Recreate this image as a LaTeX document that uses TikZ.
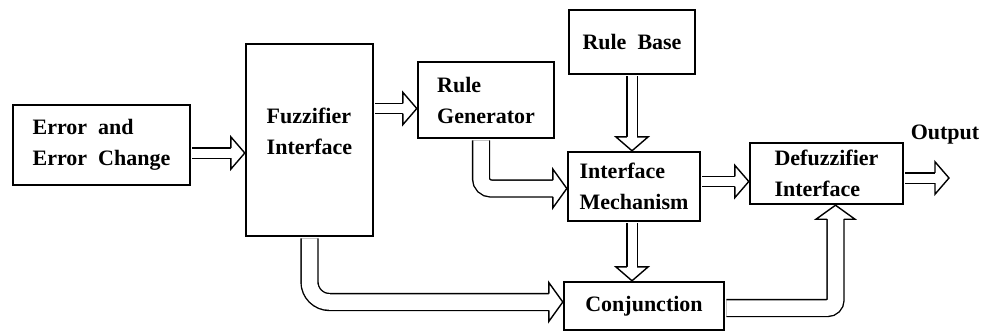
\documentclass[tikz,border=0pt]{standalone}
\usepackage{fontspec}
\setmainfont{Liberation Serif}

% punta aperta per le frecce larghe (punta in (0,0), verso +x)
\tikzset{
  testa/.pic={
    \fill[white] (-14pt,{#1+11pt}) -- (0pt,0pt) -- (-14pt,{-#1-11pt}) -- cycle;
    \draw[line width=1.4pt] (-14pt,#1) -- (-14pt,{#1+11pt}) -- (0pt,0pt)
      -- (-14pt,{-#1-11pt}) -- (-14pt,-#1);
  }
}

\begin{document}
\begin{tikzpicture}[x=1pt, y=-1pt, font=\fontsize{22}{31}\selectfont\bfseries,
    blocco/.style={draw, line width=2.4pt, align=left, inner sep=0pt},
    freccia/.style={double, double distance=9pt, line width=1.4pt,
      shorten >=13pt, shorten <=1.2pt},
    larga/.style={freccia, double distance=15.5pt}]

    \useasboundingbox (0,0) rectangle (988,333);

    % 1. Blocchi
    \node[blocco, minimum width=177pt, minimum height=80pt] (err) at (101.5,145) {Error\ \ and\\Error\ \ Change};
    \node[blocco, minimum width=127pt, minimum height=192pt,
      label={[name=fuzztxt, align=left, yshift=9pt]center:{Fuzzifier\\Interface}}] (fuzz) at (309.5,140) {};
    \node[blocco, minimum width=136pt, minimum height=76pt] (rg) at (486,100) {Rule\\Generator};
    \node[blocco, minimum width=126pt, minimum height=64pt] (rb) at (632,42) {Rule\ \ Base};
    \node[blocco, minimum width=132pt, minimum height=69pt] (im) at (634,186.5) {Interface\\Mechanism};
    \node[blocco, minimum width=153pt, minimum height=61pt] (dz) at (826.5,173.5) {Defuzzifier\\Interface};
    \node[blocco, minimum width=160pt, minimum height=48pt] (conj) at (644,306) {Conjunction};

    % 2. Uscita
    \node (uscita) at (945,135) {Output};
    \coordinate (fine) at (949,178);

    % 3. Frecce diritte
    \draw[freccia] ([yshift=-8pt]err.east) -- ([yshift=-8pt]err.east -| fuzz.west);
    \pic at ([yshift=-8pt]err.east -| fuzz.west) {testa=5.2pt};

    \draw[freccia] ([yshift=-8.5pt]rg.west -| fuzz.east) -- ([yshift=-8.5pt]rg.west);
    \pic at ([yshift=-8.5pt]rg.west) {testa=5.2pt};

    \draw[freccia] (rb.south) -- (rb.south |- im.north);
    \pic[rotate=-90] at (rb.south |- im.north) {testa=5.2pt};

    \draw[freccia] ([xshift=-2pt]im.south) -- ([xshift=-2pt]im.south |- conj.north);
    \pic[rotate=-90] at ([xshift=-2pt]im.south |- conj.north) {testa=5.2pt};

    \draw[freccia] ([yshift=5pt]im.east) -- ([yshift=5pt]im.east -| dz.west);
    \pic at ([yshift=5pt]im.east -| dz.west) {testa=5.2pt};

    \draw[freccia] ([yshift=-4.5pt]dz.east) -- (fine);
    \pic at (fine) {testa=5.2pt};

    % 4. Frecce curve
    \draw[larga, rounded corners=10pt] ([xshift=-5pt]rg.south) |- ([yshift=-2pt]im.west);
    \pic at ([yshift=-2pt]im.west) {testa=8.45pt};

    \draw[larga, rounded corners=20pt] (fuzz.south) |- ([yshift=4pt]conj.west);
    \pic at ([yshift=4pt]conj.west) {testa=8.45pt};

    \draw[larga, rounded corners=8pt] ([yshift=-2pt]conj.east) -| ([xshift=9pt]dz.south);
    \pic[rotate=90] at ([xshift=9pt]dz.south) {testa=8.45pt};

\end{tikzpicture}
\end{document}
